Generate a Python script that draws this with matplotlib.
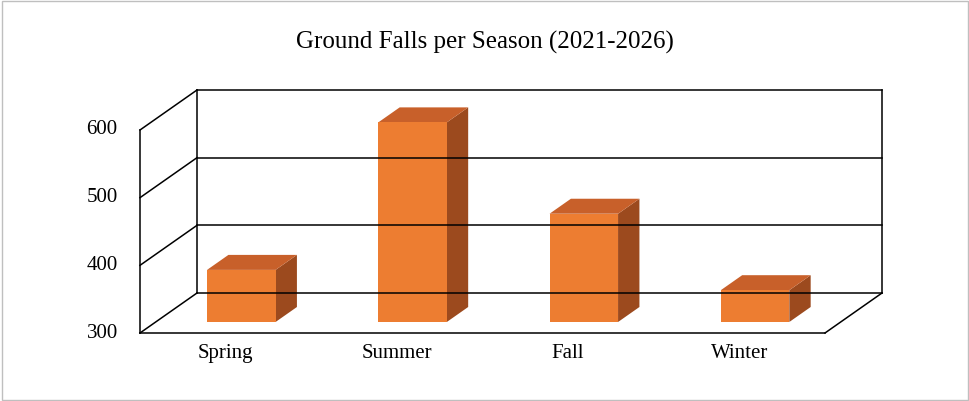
import numpy as np
import matplotlib.pyplot as plt
from matplotlib.patches import Polygon, Rectangle

seasons = ['Spring', 'Summer', 'Fall', 'Winter']
falls = [377, 595, 460, 347]
yticks = [300, 400, 500, 600]

W, H = 970, 401
fig = plt.figure(figsize=(9.7, 4.01), dpi=100)
fig.patches.append(Rectangle((0.002, 0.003), 0.996, 0.994, transform=fig.transFigure,
                             fill=False, ec='#bfbfbf', lw=1))

# front plane of the 3d box, in pixels
left, right, bottom, top = 140, 825, 333, 130
ax = fig.add_axes([left / W, 1 - bottom / H, (right - left) / W, (bottom - top) / H])
ax.set_xlim(0, 4)
ax.set_ylim(300, 600)
ax.axis('off')

# depth offset (full box depth) in data units
ddx = 57 / ((right - left) / 4)
ddy = 40 / ((bottom - top) / 300)
lk = dict(color='black', lw=1.1, clip_on=False)

# back wall gridlines and left wall
for v in yticks:
    ax.plot([ddx, 4 + ddx], [v + ddy, v + ddy], **lk)
    ax.plot([0, ddx], [v, v + ddy], **lk)
    ax.text(-0.13, v, str(v), ha='right', va='center', fontsize=15, family='Liberation Serif')
ax.plot([0, 0], [300, 600], **lk)
ax.plot([ddx, ddx], [300 + ddy, 600 + ddy], **lk)
ax.plot([4 + ddx, 4 + ddx], [300 + ddy, 600 + ddy], **lk)
# floor
ax.plot([0, 4], [300, 300], **lk)
ax.plot([4, 4 + ddx], [300, 300 + ddy], **lk)

# bars
f0, f1 = 0.275, 0.65
bw = 0.4
front_c, side_c, top_c = '#ED7D31', '#9C4A1E', '#C8602A'
for i, v in enumerate(falls):
    x0 = i + 0.5 - bw / 2 + f0 * ddx
    y0 = 300 + f0 * ddy
    h = v - 300
    ox, oy = (f1 - f0) * ddx, (f1 - f0) * ddy
    ax.add_patch(Polygon([(x0 + bw, y0), (x0 + bw + ox, y0 + oy), (x0 + bw + ox, y0 + h + oy),
                          (x0 + bw, y0 + h)], fc=side_c, ec='none', clip_on=False))
    ax.add_patch(Polygon([(x0, y0 + h), (x0 + ox, y0 + h + oy), (x0 + bw + ox, y0 + h + oy),
                          (x0 + bw, y0 + h)], fc=top_c, ec='none', clip_on=False))
    ax.add_patch(Rectangle((x0, y0), bw, h, fc=front_c, ec='none', clip_on=False))
    ax.text(i + 0.5, 270, seasons[i], ha='center', va='center', fontsize=15,
            family='Liberation Serif')

fig.text(0.5, 1 - 42 / H, 'Ground Falls per Season (2021-2026)', ha='center', va='center',
         fontsize=18, family='Liberation Serif')

fig.savefig('out.png', dpi=100)
